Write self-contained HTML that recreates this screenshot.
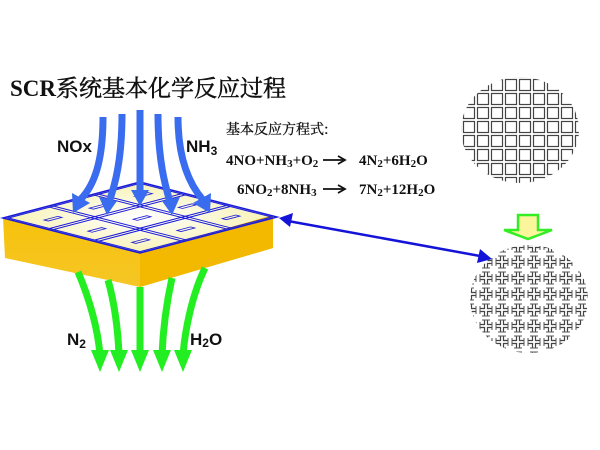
<!DOCTYPE html>
<html><head><meta charset="utf-8"><style>
html,body{margin:0;padding:0;background:#fff;}
svg{display:block}
</style></head><body>
<svg width="600" height="450" viewBox="0 0 600 450" xmlns="http://www.w3.org/2000/svg">
<defs>
<linearGradient id="gold" x1="0" y1="0" x2="0" y2="1">
<stop offset="0" stop-color="#f7c20a"/><stop offset="1" stop-color="#f5c626"/>
</linearGradient>
<radialGradient id="top" cx="0.5" cy="0.5" r="0.6">
<stop offset="0" stop-color="#ffffff"/><stop offset="1" stop-color="#f6f0a6"/>
</radialGradient>
<pattern id="grid1" width="14" height="14" patternUnits="userSpaceOnUse" x="462" y="78">
<rect x="1.5" y="1.5" width="11" height="11" fill="none" stroke="#444" stroke-width="1.2"/>
</pattern>
<pattern id="grid2" width="16" height="16" patternUnits="userSpaceOnUse" x="470" y="246">
<path d="M1.5 6V1.5H6M10 1.5H14.5V6M14.5 10V14.5H10M6 14.5H1.5V10" fill="none" stroke="#444" stroke-width="1.2"/>
<path d="M6 0V4M10 0V4M0 6H4M0 10H4M12 6H16M12 10H16M6 12V16M10 12V16" stroke="#555" stroke-width="1"/>
</pattern>
<clipPath id="c1"><ellipse cx="520" cy="130" rx="59" ry="53"/></clipPath>
<clipPath id="c2"><ellipse cx="529" cy="299" rx="59" ry="54"/></clipPath>
</defs>

<text x="10" y="96" font-family="Liberation Serif, Noto Serif CJK SC, serif" font-size="23" font-weight="bold" fill="#111">SCR<tspan font-family="Noto Serif CJK SC, serif" font-weight="normal" stroke="#111" stroke-width="0.5">系统基本化学反应过程</tspan></text>

<!-- slab -->
<polygon points="3,218 140,253 273,215 273,248 140,287 5,258" fill="url(#gold)"/>
<polygon points="140,253 273,215 273,248 140,287" fill="#f3b900"/>
<polygon points="3,218 140,182 273,215 140,253" fill="url(#top)"/>
<g transform="matrix(1.37,-0.36,1.37,0.35,3,218)" fill="none" stroke="#1a1adc">
<rect x="0" y="0" width="100" height="100" stroke-width="1.5" vector-effect="non-scaling-stroke"/>
<rect x="2" y="2" width="96" height="96" stroke-width="1" vector-effect="non-scaling-stroke"/>
<path d="M32 2V98M35 2V98M65 2V98M68 2V98M2 32H98M2 35H98M2 65H98M2 68H98" stroke-width="1" vector-effect="non-scaling-stroke"/>
<path d="M12 18h10v3h-10zM45 18h10v3h-10zM78 18h10v3h-10zM12 50h10v3h-10zM45 50h10v3h-10zM78 50h10v3h-10zM12 82h10v3h-10zM45 82h10v3h-10zM78 82h10v3h-10z" stroke-width="0.8" vector-effect="non-scaling-stroke"/>
</g>

<!-- blue arrows -->
<g fill="none" stroke="#3a6cf0" stroke-width="7">
<path d="M103 117 C103 160 95 185 80 200"/>
<path d="M122 114 C122 160 115 185 109 202"/>
<path d="M140 110 L140 193"/>
<path d="M158 114 C158 160 165 185 170 202"/>
<path d="M178 117 C178 160 190 185 203 200"/>
</g>
<g fill="#3a6cf0">
<polygon points="73,213 72,193 90,203"/>
<polygon points="107,215 99,197 117,201"/>
<polygon points="140,206 131,190 149,190"/>
<polygon points="172,215 162,201 180,197"/>
<polygon points="210,213 193,203 211,193"/>
</g>

<text x="57" y="152" font-family="Liberation Sans, sans-serif" font-size="17" font-weight="bold" fill="#111">NOx</text>
<text x="186" y="152" font-family="Liberation Sans, sans-serif" font-size="17" font-weight="bold" fill="#111">NH<tspan font-size="12" dy="3">3</tspan></text>

<!-- green arrows -->
<g fill="none" stroke="#22ee22" stroke-width="7">
<path d="M78 272 C90 300 98 330 100 355"/>
<path d="M108 280 C115 305 118 330 119 355"/>
<path d="M140 287 L140 355"/>
<path d="M172 278 C166 305 163 330 162 355"/>
<path d="M205 268 C192 295 185 330 183 355"/>
</g>
<g fill="#22ee22">
<polygon points="91,350 109,350 100,372"/>
<polygon points="110,350 128,350 119,372"/>
<polygon points="131,350 149,350 140,372"/>
<polygon points="153,350 171,350 162,372"/>
<polygon points="174,350 192,350 183,372"/>
</g>
<text x="67" y="345" font-family="Liberation Sans, sans-serif" font-size="17" font-weight="bold" fill="#111">N<tspan font-size="12" dy="3">2</tspan></text>
<text x="190" y="345" font-family="Liberation Sans, sans-serif" font-size="17" font-weight="bold" fill="#111">H<tspan font-size="12" dy="2">2</tspan><tspan dy="-2">O</tspan></text>

<!-- equations -->
<g font-family="Liberation Serif, serif" font-weight="bold" font-size="15" fill="#111">
<text x="226" y="134" font-family="Noto Serif CJK SC, serif" font-weight="normal" font-size="14" stroke="#111" stroke-width="0.3">基本反应方程式:</text>
<text x="226" y="165">4NO+NH<tspan font-size="11" dy="2">3</tspan><tspan dy="-2">+O</tspan><tspan font-size="11" dy="2">2</tspan></text>
<text x="359" y="165">4N<tspan font-size="11" dy="2">2</tspan><tspan dy="-2">+6H</tspan><tspan font-size="11" dy="2">2</tspan><tspan dy="-2">O</tspan></text>
<text x="237" y="194">6NO<tspan font-size="11" dy="2">2</tspan><tspan dy="-2">+8NH</tspan><tspan font-size="11" dy="2">3</tspan></text>
<text x="359" y="194">7N<tspan font-size="11" dy="2">2</tspan><tspan dy="-2">+12H</tspan><tspan font-size="11" dy="2">2</tspan><tspan dy="-2">O</tspan></text>
</g>
<g stroke="#111" stroke-width="1.8" fill="#111">
<line x1="323" y1="160" x2="343" y2="160"/><polyline points="338,156 345,160 338,164" fill="none"/>
<line x1="323" y1="189" x2="343" y2="189"/><polyline points="338,185 345,189 338,193" fill="none"/>
</g>

<!-- double arrow -->
<line x1="288" y1="221" x2="480" y2="256" stroke="#1414d8" stroke-width="2.5"/>
<polygon points="279,218 293,213 290,227" fill="#1414d8"/>
<polygon points="492,259 477,263 480,249" fill="#1414d8"/>

<!-- circles -->
<g clip-path="url(#c1)"><rect x="455" y="70" width="130" height="120" fill="url(#grid1)"/></g>
<g clip-path="url(#c2)"><rect x="465" y="240" width="130" height="120" fill="url(#grid2)"/></g>

<!-- yellow/green arrow -->
<polygon points="518,215 538,215 538,230 552,230 528,239 504,230 518,230" fill="#fbf59c" stroke="#33ee22" stroke-width="2.5"/>
</svg>
</body></html>
